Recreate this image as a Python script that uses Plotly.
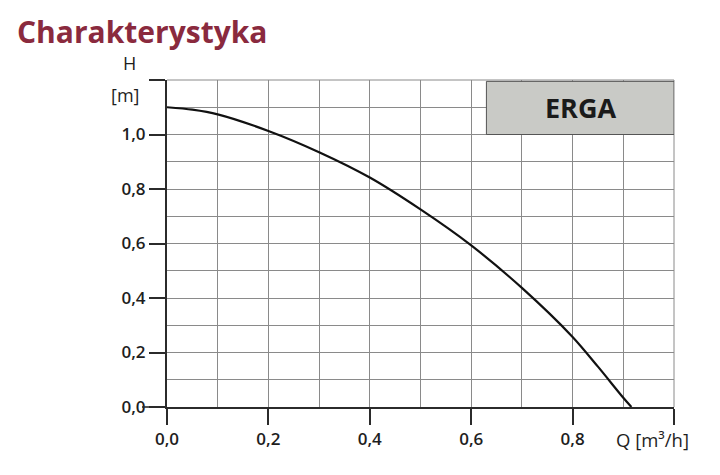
import plotly.graph_objects as go

# Pump curve
Q = [0.0, 0.05, 0.1, 0.2, 0.3, 0.4, 0.5, 0.6, 0.7, 0.8, 0.85, 0.9, 0.916]
H = [1.10, 1.091, 1.074, 1.013, 0.935, 0.842, 0.725, 0.593, 0.437, 0.257, 0.148, 0.034, 0.0]

x_tickvals = [0.0, 0.2, 0.4, 0.6, 0.8, 1.0]
x_ticktext = ["0,0", "0,2", "0,4", "0,6", "0,8", ""]
y_tickvals = [0.0, 0.2, 0.4, 0.6, 0.8, 1.0, 1.2]
y_ticktext = ["0,0", "0,2", "0,4", "0,6", "0,8", "1,0", ""]

title_text = "Charakterystyka"
label_name = "ERGA"
y_label_top = "H"
y_label_unit = "[m]"
x_label = "Q [m³/h]"

GRID = "#8a8a8a"
AXIS = "#2b2b2b"
TXT = "#1e1e1e"

# plot area in page pixels (page has an 8px body margin)
PL, PR, PT, PB = 167.0, 674.0, 80.0, 407.5


def px(x):
    return (x - PL) / (PR - PL)


def py(y):
    return (PB - y) / (PB - PT)


fig = go.Figure()
fig.add_trace(go.Scatter(
    x=Q, y=H, mode="lines",
    line=dict(color="#111111", width=2.2, shape="spline", smoothing=0.8),
    hoverinfo="skip", showlegend=False,
))

tickfont = dict(family="Open Sans", size=17, color=TXT, weight=600)

fig.update_xaxes(
    range=[0, 1.0], tickmode="array", tickvals=x_tickvals, ticktext=x_ticktext,
    ticks="outside", ticklen=16, tickwidth=1.6, tickcolor=AXIS,
    showline=True, linecolor=AXIS, linewidth=2,
    showgrid=True, gridcolor=GRID, gridwidth=1,
    minor=dict(dtick=0.1, showgrid=True, gridcolor=GRID, gridwidth=1, ticks=""),
    zeroline=False, tickfont=tickfont, fixedrange=True,
)
fig.update_yaxes(
    range=[0, 1.2], tickmode="array", tickvals=y_tickvals, ticktext=y_ticktext,
    ticks="outside", ticklen=16, tickwidth=1.6, tickcolor=AXIS,
    showline=True, linecolor=AXIS, linewidth=2,
    showgrid=True, gridcolor=GRID, gridwidth=1,
    minor=dict(dtick=0.1, showgrid=True, gridcolor=GRID, gridwidth=1, ticks=""),
    zeroline=False, tickfont=tickfont, fixedrange=True,
)

# Top and right frame lines (grey like the grid)
fig.add_shape(type="line", xref="paper", yref="paper", x0=0, x1=1, y0=1, y1=1,
              line=dict(color=GRID, width=1))
fig.add_shape(type="line", xref="paper", yref="paper", x0=1, x1=1, y0=0, y1=1,
              line=dict(color=GRID, width=1))
# longer tick at the origin
fig.add_shape(type="line", xref="paper", yref="paper", x0=px(142), x1=0, y0=0, y1=0,
              line=dict(color=AXIS, width=1.6))

# ERGA label box
fig.add_shape(type="rect", xref="x", yref="y", x0=0.63, x1=1.0, y0=1.0, y1=1.195,
              fillcolor="#c9cac6", line=dict(color="#555555", width=1), layer="above")
fig.add_annotation(x=0.815, y=1.098, xref="x", yref="y", text=label_name,
                   showarrow=False, xanchor="center", yanchor="middle",
                   font=dict(family="Open Sans", size=27, color="#1a1a1a", weight=700))

# Title
fig.add_annotation(x=px(15), y=py(31), xref="paper", yref="paper", text=title_text,
                   showarrow=False, xanchor="left", yanchor="middle",
                   font=dict(family="Open Sans", size=30, color="#8a2a3e", weight=700))

# Axis labels
fig.add_annotation(x=px(129), y=py(63), xref="paper", yref="paper", text=y_label_top,
                   showarrow=False, xanchor="center", yanchor="middle",
                   font=dict(family="Open Sans", size=18, color=TXT))
fig.add_annotation(x=px(125), y=py(95), xref="paper", yref="paper", text=y_label_unit,
                   showarrow=False, xanchor="center", yanchor="middle",
                   font=dict(family="Open Sans", size=18, color=TXT))
fig.add_annotation(x=px(652), y=py(440), xref="paper", yref="paper", text=x_label,
                   showarrow=False, xanchor="center", yanchor="middle",
                   font=dict(family="Open Sans", size=18.5, color=TXT))

fig.update_layout(
    width=712, height=467,
    margin=dict(l=PL - 8, r=712 - (PR - 8), t=PT - 8, b=467 - (PB - 8)),
    plot_bgcolor="white", paper_bgcolor="white",
    separators=", ",
    showlegend=False,
)

fig.write_html("out.html")
